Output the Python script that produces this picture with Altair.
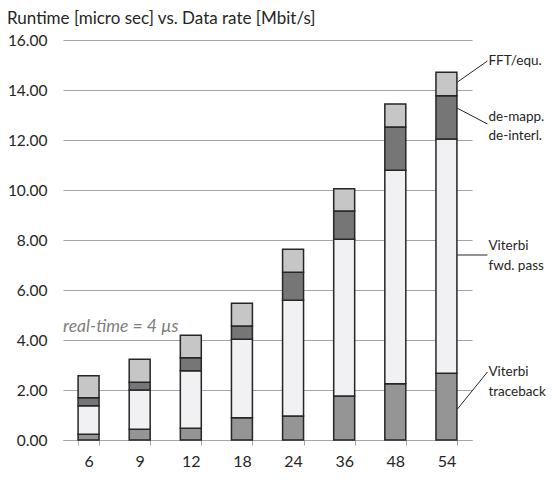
import altair as alt
import pandas as pd

cats = ["6", "9", "12", "18", "24", "36", "48", "54"]
traceback = [0.23, 0.43, 0.47, 0.89, 0.96, 1.76, 2.25, 2.67]
fwd_pass = [1.14, 1.57, 2.30, 3.14, 4.63, 6.27, 8.54, 9.37]
demapp = [0.32, 0.31, 0.52, 0.53, 1.12, 1.13, 1.73, 1.73]
fft = [0.88, 0.92, 0.90, 0.91, 0.92, 0.89, 0.92, 0.94]

series = ["Viterbi traceback", "Viterbi fwd. pass", "de-mapp. de-interl.", "FFT/equ."]
colors = ["#959595", "#f1f1f3", "#767676", "#c6c6c6"]

label_text = ["FFT/equ.", "de-mapp.", "de-interl.", "Viterbi", "fwd. pass", "Viterbi", "traceback"]
label_y = [15.16, 12.92, 12.16, 7.76, 6.96, 2.72, 1.92]

leader_y = [14.32, 13.27, 7.40, 1.24]
leader_y2 = [15.16, 12.64, 7.40, 2.72]

rows = []
for vals, s, k in zip([traceback, fwd_pass, demapp, fft], series, range(4)):
    for c, v in zip(cats, vals):
        rows.append({"cat": c, "series": s, "value": v, "order": k})
df = pd.DataFrame(rows)

lab_df = pd.DataFrame({"cat": ["54"] * len(label_text), "text": label_text, "y": label_y})
lead_df = pd.DataFrame({"cat": ["54"] * len(leader_y), "y": leader_y, "y2": leader_y2})
rt_df = pd.DataFrame({"cat": ["6"], "y": [4.52], "text": ["real-time = 4 µs"]})

FONT = "Lato"

xenc = alt.X("cat:N", sort=cats,
             scale=alt.Scale(paddingInner=0.59, paddingOuter=0.295),
             axis=alt.Axis(title=None, labelAngle=0, domainColor="#a6a6a6", tickColor="#a6a6a6",
                           tickSize=5, tickBand="extent", labelPadding=8, labelFontSize=16,
                           labelColor="#262626", labelFont=FONT, grid=False))
yscale = alt.Scale(domain=[0, 16], nice=False)

bars = alt.Chart(df).mark_bar(stroke="#262626", strokeWidth=1.5).encode(
    x=xenc,
    y=alt.Y("value:Q", stack="zero", scale=yscale,
            axis=alt.Axis(title=None, format=".2f", values=[0, 2, 4, 6, 8, 10, 12, 14, 16],
                          domain=False, ticks=False, labelPadding=16, labelFontSize=15.5,
                          labelColor="#262626", labelFont=FONT, gridColor="#a6a6a6",
                          gridWidth=1)),
    color=alt.Color("series:N", sort=series, scale=alt.Scale(domain=series, range=colors), legend=None),
    order=alt.Order("order:Q"),
)

leaders = alt.Chart(lead_df).mark_rule(color="#262626", strokeWidth=1, xOffset=11, x2Offset=41).encode(
    x=alt.X("cat:N", sort=cats),
    x2=alt.X2("cat"),
    y=alt.Y("y:Q", scale=yscale),
    y2="y2:Q",
)

labels = alt.Chart(lab_df).mark_text(align="left", baseline="middle", dx=42, fontSize=13.5,
                                     font=FONT, color="#262626").encode(
    x=alt.X("cat:N", sort=cats),
    y=alt.Y("y:Q", scale=yscale),
    text="text:N",
)

rt = alt.Chart(rt_df).mark_text(align="left", baseline="middle", dx=-15, fontSize=17.5, font=FONT,
                                fontStyle="italic", color="#7f7f7f").encode(
    x=alt.X("cat:N", sort=cats, bandPosition=0),
    y=alt.Y("y:Q", scale=yscale),
    text="text:N",
)

chart = alt.layer(bars, leaders, labels, rt).properties(
    width=409, height=400,
    title=alt.TitleParams("Runtime [micro sec] vs. Data rate [Mbit/s]", anchor="start", frame="group",
                          dx=-56, offset=5, fontSize=17, font=FONT, fontWeight="normal",
                          color="#262626"),
    autosize=alt.AutoSizeParams(type="none"),
    padding={"left": 55, "top": 32, "right": 76, "bottom": 30},
).configure_view(stroke=None)

chart.save("out.html", embed_options={"renderer": "svg", "actions": False})
